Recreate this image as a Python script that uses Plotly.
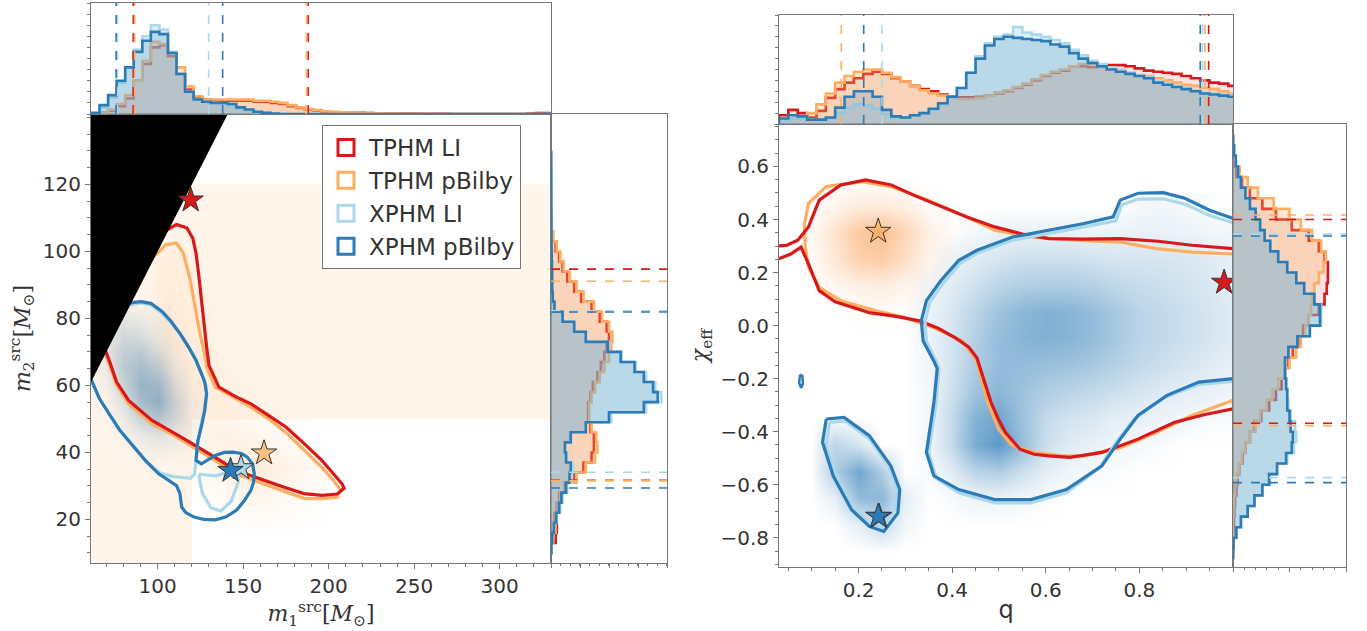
import plotly.graph_objects as go

# ---------------- series ----------------
NAMES = ['TPHM LI', 'TPHM pBilby', 'XPHM LI', 'XPHM pBilby']
COLS = ['#d7191c', '#fdae61', '#abd9e9', '#2c7bb6']
FILLS = ['rgba(215,25,28,0.12)', 'rgba(253,174,97,0.30)',
         'rgba(171,217,233,0.40)', 'rgba(44,123,182,0.20)']

M1_RANGE = [61, 330]
M2_RANGE = [7, 141]
Q_RANGE = [0.03, 1.0]
CHI_RANGE = [-0.91, 0.76]

# ---------- m1 marginal histogram (bin width 5) ----------
m1_edges = [61 + 5 * i for i in range(55)]
m1_red = [0, 0.01, 0.03, 0.07, 0.14, 0.30, 0.45, 0.60, 0.62, 0.52, 0.36, 0.22, 0.15, 0.13, 0.12, 0.12,
          0.12, 0.12, 0.12, 0.11, 0.11, 0.10, 0.09, 0.07, 0.055, 0.04, 0.03, 0.02, 0.015, 0.012, 0.01,
          0.01, 0.008, 0.006, 0.005, 0.004, 0.003, 0.003, 0.002, 0.002, 0.001, 0.001, 0, 0, 0, 0, 0,
          0, 0, 0, 0, 0.005, 0.008, 0.008]
m1_ora = [0, 0.01, 0.04, 0.09, 0.17, 0.30, 0.48, 0.65, 0.63, 0.55, 0.42, 0.25, 0.16, 0.13, 0.13, 0.13,
          0.13, 0.13, 0.13, 0.12, 0.12, 0.11, 0.10, 0.08, 0.06, 0.045, 0.035, 0.025, 0.02, 0.015, 0.012,
          0.01, 0.008, 0.006, 0.004, 0.003, 0.002, 0.002, 0.001, 0.001, 0, 0, 0, 0, 0, 0, 0,
          0, 0, 0, 0, 0, 0, 0]
m1_lbl = [0, 0.06, 0.15, 0.28, 0.42, 0.58, 0.70, 0.80, 0.76, 0.56, 0.36, 0.20, 0.13, 0.11, 0.10, 0.09,
          0.07, 0.05, 0.03, 0.015, 0.005, 0.002, 0, 0, 0, 0, 0, 0, 0, 0, 0,
          0, 0, 0, 0, 0, 0, 0, 0, 0, 0, 0, 0, 0, 0, 0, 0, 0, 0, 0, 0, 0, 0, 0]
m1_blu = [0.01, 0.08, 0.17, 0.30, 0.42, 0.56, 0.66, 0.74, 0.72, 0.55, 0.36, 0.20, 0.13, 0.11, 0.10, 0.10,
          0.09, 0.06, 0.04, 0.02, 0.01, 0.005, 0, 0, 0, 0, 0, 0, 0, 0, 0,
          0, 0, 0, 0, 0, 0, 0, 0, 0, 0, 0, 0, 0, 0, 0, 0, 0, 0, 0, 0, 0, 0, 0]
m1_q_lines = [[85.7, 188.0], [86.5, 187.0], [76.5, 129.8], [75.7, 138.0]]

# ---------- m2 marginal histogram (bin width 3) ----------
m2_edges = [10 + 3 * i for i in range(41)]
m2_red = [0.005, 0.04, 0.05, 0.03, 0.05, 0.07, 0.12, 0.20, 0.28, 0.35, 0.37, 0.37, 0.34, 0.32, 0.32,
          0.34, 0.36, 0.40, 0.43, 0.46, 0.48, 0.50, 0.48, 0.42, 0.35, 0.26, 0.20, 0.14, 0.10, 0.07,
          0.04, 0.01, 0.005, 0.002, 0, 0, 0, 0, 0, 0]
m2_ora = [0.005, 0.02, 0.04, 0.04, 0.06, 0.08, 0.13, 0.22, 0.30, 0.38, 0.40, 0.39, 0.35, 0.33, 0.33,
          0.35, 0.38, 0.42, 0.46, 0.50, 0.52, 0.53, 0.50, 0.44, 0.37, 0.28, 0.22, 0.16, 0.11, 0.08,
          0.05, 0.02, 0.008, 0.003, 0, 0, 0, 0, 0, 0]
m2_lbl = [0.003, 0.01, 0.025, 0.05, 0.08, 0.10, 0.14, 0.18, 0.19, 0.14, 0.12, 0.16, 0.30, 0.52, 0.82,
          0.95, 0.90, 0.82, 0.73, 0.61, 0.50, 0.30, 0.20, 0.10, 0.03, 0.015, 0.01, 0.01, 0.008, 0.006,
          0.005, 0.004, 0.003, 0.003, 0.002, 0.002, 0.001, 0.001, 0, 0]
m2_blu = [0.003, 0.01, 0.025, 0.045, 0.07, 0.09, 0.13, 0.16, 0.17, 0.13, 0.12, 0.17, 0.30, 0.50, 0.80,
          0.92, 0.88, 0.80, 0.72, 0.60, 0.49, 0.30, 0.20, 0.10, 0.03, 0.015, 0.01, 0.01, 0.008, 0.006,
          0.005, 0.004, 0.003, 0.003, 0.002, 0.002, 0.001, 0.001, 0, 0]
m2_q_lines = [[31.7, 94.7], [31.5, 91.1], [34.1, 82.3], [29.4, 81.9]]

# ---------- q marginal histogram (bin width 0.02) ----------
q_edges = [round(0.03 + 0.02 * i, 2) for i in range(50)]
q_red = [0.08, 0.13, 0.10, 0.06, 0.12, 0.24, 0.32, 0.38, 0.42, 0.46, 0.48, 0.46, 0.42, 0.39, 0.35, 0.32,
         0.30, 0.27, 0.25, 0.245, 0.245, 0.25, 0.26, 0.28, 0.30, 0.33, 0.36, 0.40, 0.44, 0.47, 0.49,
         0.53, 0.53, 0.52, 0.53, 0.54, 0.54, 0.53, 0.51, 0.49, 0.48, 0.47, 0.46, 0.44, 0.42, 0.40,
         0.38, 0.37, 0.35]
q_ora = [0.04, 0.05, 0.07, 0.10, 0.18, 0.28, 0.38, 0.44, 0.48, 0.50, 0.50, 0.47, 0.43, 0.39, 0.35, 0.31,
         0.28, 0.26, 0.24, 0.23, 0.23, 0.24, 0.26, 0.29, 0.31, 0.34, 0.37, 0.41, 0.45, 0.48, 0.50,
         0.53, 0.55, 0.55, 0.53, 0.51, 0.49, 0.47, 0.45, 0.44, 0.42, 0.40, 0.38, 0.36, 0.35, 0.33,
         0.32, 0.30, 0.28]
q_lbl = [0.03, 0.05, 0.05, 0.04, 0.03, 0.05, 0.10, 0.15, 0.18, 0.17, 0.14, 0.09, 0.06, 0.06, 0.08, 0.10,
         0.13, 0.18, 0.24, 0.33, 0.47, 0.62, 0.74, 0.80, 0.82, 0.89, 0.84, 0.82, 0.80, 0.77, 0.74,
         0.68, 0.63, 0.58, 0.55, 0.52, 0.50, 0.47, 0.45, 0.43, 0.40, 0.37, 0.35, 0.33, 0.31, 0.29,
         0.28, 0.27, 0.26]
q_blu = [0.05, 0.08, 0.07, 0.04, 0.04, 0.06, 0.15, 0.25, 0.30, 0.30, 0.25, 0.13, 0.07, 0.06, 0.08, 0.10,
         0.14, 0.19, 0.25, 0.33, 0.47, 0.60, 0.72, 0.78, 0.80, 0.79, 0.78, 0.77, 0.76, 0.73, 0.71,
         0.65, 0.60, 0.56, 0.53, 0.50, 0.48, 0.46, 0.44, 0.42, 0.38, 0.36, 0.34, 0.32, 0.30, 0.28,
         0.27, 0.26, 0.25]
q_q_lines = [[0.948], [0.163, 0.94], [0.25, 0.935], [0.211, 0.93]]

# ---------- chi_eff marginal histogram (bin width 0.04) ----------
chi_edges = [round(-0.88 + 0.04 * i, 2) for i in range(41)]
chi_red = [0, 0, 0.004, 0.008, 0.012, 0.018, 0.03, 0.04, 0.055, 0.085, 0.11, 0.15, 0.19, 0.25, 0.32,
           0.38, 0.43, 0.46, 0.49, 0.53, 0.58, 0.62, 0.67, 0.76, 0.81, 0.83, 0.84, 0.84, 0.81, 0.76,
           0.67, 0.52, 0.38, 0.26, 0.15, 0.08, 0.03, 0.005, 0, 0]
chi_ora = [0, 0, 0, 0, 0.005, 0.01, 0.02, 0.03, 0.05, 0.08, 0.11, 0.15, 0.20, 0.24, 0.30, 0.35, 0.40,
           0.46, 0.50, 0.56, 0.60, 0.64, 0.67, 0.69, 0.70, 0.72, 0.76, 0.80, 0.82, 0.78, 0.70, 0.60,
           0.50, 0.36, 0.22, 0.13, 0.06, 0.02, 0.005, 0]
chi_lbl = [0, 0.005, 0.03, 0.07, 0.13, 0.19, 0.26, 0.32, 0.39, 0.48, 0.54, 0.56, 0.55, 0.51, 0.49, 0.48,
           0.47, 0.46, 0.46, 0.49, 0.57, 0.68, 0.78, 0.78, 0.72, 0.63, 0.56, 0.48, 0.40, 0.33, 0.28,
           0.24, 0.20, 0.15, 0.11, 0.07, 0.045, 0.025, 0.01, 0]
chi_blu = [0, 0.005, 0.03, 0.07, 0.13, 0.19, 0.26, 0.32, 0.39, 0.47, 0.52, 0.53, 0.51, 0.50, 0.48, 0.48,
           0.47, 0.46, 0.46, 0.49, 0.57, 0.68, 0.77, 0.77, 0.72, 0.63, 0.56, 0.48, 0.40, 0.33, 0.28,
           0.24, 0.20, 0.15, 0.11, 0.07, 0.045, 0.025, 0.01, 0]
chi_q_lines = [[-0.368, 0.40], [-0.377, 0.417], [-0.573, 0.345], [-0.592, 0.338]]

# ---------- 2D densities (coarse grids) ----------
prior_m1_edges = [61, 120, 330]
prior_m2_edges = [7, 50, 120]
prior_z = [[1, 0], [1, 1]]

LB_m1 = [60, 70, 80, 90, 100, 110, 120, 130]
LB_m2 = [35, 40, 45, 50, 55, 60, 65, 70, 75, 80, 85]
LB_z = [[0, 0, 0, 0, 0, 0, 0, 0],
        [0, 0, 0, 0.02, 0.05, 0.03, 0, 0],
        [0, 0, 0.02, 0.12, 0.20, 0.12, 0.02, 0],
        [0, 0, 0.08, 0.35, 0.50, 0.30, 0.05, 0],
        [0, 0, 0.20, 0.60, 0.75, 0.35, 0.05, 0],
        [0, 0.05, 0.35, 0.70, 0.65, 0.25, 0.02, 0],
        [0, 0.10, 0.45, 0.60, 0.45, 0.12, 0, 0],
        [0, 0.15, 0.40, 0.45, 0.25, 0.05, 0, 0],
        [0, 0.15, 0.30, 0.25, 0.10, 0.02, 0, 0],
        [0, 0.10, 0.15, 0.10, 0.05, 0, 0, 0],
        [0, 0, 0, 0, 0, 0, 0, 0]]

LO_m1 = [95, 105, 115, 125, 135, 145, 155, 165, 175, 185, 195, 205, 215]
LO_m2 = [15, 25, 35, 45, 55, 65, 75, 85, 95, 105]
LO_z = [[0, 0, 0, 0, 0, 0, 0, 0, 0, 0, 0, 0, 0],
        [0, 0, 0, 0, 0.02, 0.05, 0.08, 0.08, 0.06, 0.04, 0.02, 0, 0],
        [0, 0, 0, 0.05, 0.12, 0.20, 0.25, 0.20, 0.15, 0.10, 0.05, 0, 0],
        [0, 0, 0.05, 0.10, 0.15, 0.15, 0.12, 0.08, 0.05, 0.02, 0, 0, 0],
        [0, 0.05, 0.10, 0.12, 0.10, 0.05, 0.02, 0, 0, 0, 0, 0, 0],
        [0, 0.10, 0.12, 0.10, 0.05, 0, 0, 0, 0, 0, 0, 0, 0],
        [0, 0.15, 0.15, 0.08, 0, 0, 0, 0, 0, 0, 0, 0, 0],
        [0, 0.15, 0.12, 0.05, 0, 0, 0, 0, 0, 0, 0, 0, 0],
        [0, 0.10, 0.10, 0, 0, 0, 0, 0, 0, 0, 0, 0, 0],
        [0, 0, 0, 0, 0, 0, 0, 0, 0, 0, 0, 0, 0]]

RB_q = [0.1, 0.15, 0.2, 0.25, 0.3, 0.35, 0.4, 0.45, 0.5, 0.55, 0.6, 0.65, 0.7, 0.75, 0.8, 0.85, 0.9,
        0.95, 1.0, 1.05]
RB_chi = [-0.85, -0.75, -0.65, -0.55, -0.45, -0.35, -0.25, -0.15, -0.05, 0.05, 0.15, 0.25, 0.35, 0.45]
RB_z = [[0, 0, 0, 0, 0, 0, 0, 0, 0, 0, 0, 0, 0, 0, 0, 0, 0, 0, 0, 0],
        [0, 0, 0.12, 0.30, 0.05, 0, 0, 0, 0, 0, 0, 0, 0, 0, 0, 0, 0, 0, 0, 0],
        [0, 0.12, 0.55, 0.60, 0.12, 0, 0.03, 0.08, 0.08, 0.05, 0.02, 0, 0, 0, 0, 0, 0, 0, 0, 0],
        [0, 0.40, 0.75, 0.40, 0, 0.03, 0.15, 0.35, 0.40, 0.25, 0.12, 0.06, 0.03, 0.02, 0, 0, 0, 0, 0, 0],
        [0, 0.35, 0.20, 0, 0, 0.05, 0.30, 0.70, 0.85, 0.55, 0.25, 0.15, 0.10, 0.06, 0.04, 0.02, 0, 0, 0, 0],
        [0, 0, 0, 0, 0, 0.05, 0.30, 0.65, 0.75, 0.50, 0.30, 0.22, 0.18, 0.12, 0.10, 0.08, 0.05, 0.03,
         0.02, 0.02],
        [0, 0, 0, 0, 0, 0.05, 0.25, 0.50, 0.60, 0.50, 0.40, 0.35, 0.30, 0.25, 0.20, 0.15, 0.12, 0.10,
         0.06, 0.06],
        [0, 0, 0, 0, 0, 0.06, 0.22, 0.42, 0.55, 0.55, 0.52, 0.50, 0.45, 0.38, 0.30, 0.25, 0.20, 0.15,
         0.10, 0.10],
        [0, 0, 0, 0, 0, 0.08, 0.22, 0.40, 0.55, 0.62, 0.65, 0.62, 0.55, 0.45, 0.35, 0.30, 0.25, 0.20,
         0.15, 0.15],
        [0, 0, 0, 0, 0, 0.08, 0.20, 0.35, 0.50, 0.60, 0.65, 0.62, 0.55, 0.45, 0.35, 0.30, 0.25, 0.20,
         0.15, 0.15],
        [0, 0, 0, 0, 0, 0.05, 0.15, 0.25, 0.35, 0.40, 0.42, 0.42, 0.38, 0.32, 0.28, 0.25, 0.22, 0.18,
         0.12, 0.12],
        [0, 0, 0, 0, 0, 0, 0.08, 0.15, 0.20, 0.25, 0.25, 0.25, 0.22, 0.20, 0.20, 0.20, 0.18, 0.15, 0.10,
         0.10],
        [0, 0, 0, 0, 0, 0, 0, 0.05, 0.08, 0.10, 0.10, 0.10, 0.08, 0.08, 0.10, 0.10, 0.08, 0.06, 0.05,
         0.05],
        [0, 0, 0, 0, 0, 0, 0, 0, 0, 0, 0, 0, 0, 0, 0.04, 0.05, 0.04, 0.02, 0, 0]]

RO_q = [0.05, 0.1, 0.15, 0.2, 0.25, 0.3, 0.35, 0.4, 0.45]
RO_chi = [-0.05, 0.05, 0.15, 0.25, 0.35, 0.45, 0.55]
RO_z = [[0, 0, 0, 0, 0, 0, 0, 0, 0],
        [0, 0, 0, 0.02, 0.03, 0.02, 0, 0, 0],
        [0, 0, 0.08, 0.15, 0.18, 0.10, 0.03, 0, 0],
        [0, 0.03, 0.25, 0.50, 0.55, 0.35, 0.10, 0.02, 0],
        [0, 0.05, 0.30, 0.60, 0.70, 0.45, 0.15, 0.03, 0],
        [0, 0, 0.10, 0.20, 0.22, 0.15, 0.05, 0, 0],
        [0, 0, 0, 0, 0, 0, 0, 0, 0]]

# ---------- 90% contours ----------
L_red_m1 = [95, 104, 111, 117, 120.5, 122.4, 124, 125.5, 127, 128.6, 130, 135.8, 145, 154.5, 165, 175,
            186, 196, 203, 208, 209, 205, 196, 185.5, 174, 162.7, 154, 146, 136, 125.5, 117, 108.9,
            96.5, 83, 76, 71.6, 66, 62, 60, 75, 95]
L_red_m2 = [100, 106, 108, 107, 104, 99.5, 93, 85.5, 78, 71.5, 66, 59.5, 56.8, 54.5, 51, 47.6, 42.5,
            37.6, 33.5, 30.5, 29.3, 27.6, 27.2, 27.7, 29.6, 31.6, 33.2, 34.6, 37.8, 41.1, 43.6, 46,
            49.6, 55.5, 61, 67.5, 75, 82, 90, 100, 100]
L_ora_m1 = [95, 104.8, 111, 115, 119, 122.4, 124.5, 126.5, 129, 133.7, 144, 154.5, 165, 176, 187,
            197, 203, 207, 205, 196, 185.5, 174, 162.7, 154, 146, 136, 125.5, 116, 108, 96.5, 83,
            76, 71.6, 66, 62, 60, 75, 95]
L_ora_m2 = [97, 102, 102.5, 99.5, 91.5, 81.5, 76, 71.5, 65, 59.5, 56.5, 53.5, 50, 45.5, 40, 35, 31.5,
            28.7, 26.6, 26.2, 26.3, 28.5, 30.6, 32.2, 33.6, 36.8, 40.1, 43, 45.5, 48.6, 54.5, 60,
            66.5, 74, 81, 88, 97, 97]
L_lbl_m1 = [70, 78, 86, 90.3, 96, 102.7, 108, 113, 118, 122.4, 126, 128.2, 128.6, 127, 125, 123.5,
            122.6, 121.5, 119.3, 109, 100.6, 93, 86, 78, 71.6, 66, 63, 60, 58, 62, 70]
L_lbl_m2 = [80, 83.5, 84.2, 84.6, 84, 81.5, 78.5, 75.5, 71.5, 67.5, 63, 60, 57.5, 52, 47.6, 43, 38,
            33.5, 32.3, 32.8, 34, 37.5, 41.6, 46.5, 51.5, 56, 59.5, 63, 68, 75, 80]
L_lbl2_m1 = [124, 134, 142, 147.5, 147, 143, 137, 131, 126, 124]
L_lbl2_m2 = [33.5, 33, 34.2, 36.2, 31, 25.5, 22.5, 23.5, 28, 33.5]
L_blu_m1 = [70, 78, 86, 90.3, 96, 102.7, 108, 113, 118, 122.4, 126, 127.5, 128.6, 127.5, 125.5, 123.5,
            123, 122.4, 125.5, 129.5, 133.7, 139, 144, 149, 152.4, 155.5, 156.5, 156, 154.5, 150.5,
            146, 140, 133.7, 127, 121.3, 116.5, 114, 113, 111, 106, 100.6, 93, 86, 78, 71.6, 66, 63,
            60, 58, 62, 70]
L_blu_m2 = [80.5, 84, 84.8, 85, 84.5, 82, 79, 75.5, 71.5, 67.5, 63, 61, 57.5, 52.5, 47.6, 43.5, 41,
            37.6, 36.6, 37.8, 39.1, 40, 40.1, 39.7, 38.6, 36.5, 33.6, 31, 28.7, 25.5, 22.7, 20.8, 19.9,
            20, 20.7, 22, 23.7, 27.7, 30.1, 31.8, 33.6, 37.5, 41.6, 46.5, 51.5, 56, 59.5, 63, 68, 75,
            80.5]

R_red_q = [0.0, 0.047, 0.07, 0.093, 0.116, 0.162, 0.215, 0.27, 0.32, 0.376, 0.43, 0.491, 0.55, 0.606,
           0.68, 0.759, 0.84, 0.912, 1.0, 1.05]
R_red_chi = [0.297, 0.303, 0.322, 0.372, 0.473, 0.53, 0.549, 0.53, 0.49, 0.448, 0.41, 0.372, 0.345,
             0.328, 0.326, 0.328, 0.318, 0.303, 0.29, 0.29]
R_red2_q = [0.0, 0.03, 0.055, 0.077, 0.093, 0.116, 0.15, 0.223, 0.28, 0.33, 0.37, 0.407, 0.435, 0.453,
            0.46, 0.472, 0.483, 0.498, 0.514, 0.545, 0.575, 0.606, 0.652, 0.72, 0.797, 0.874, 0.94,
            1.0, 1.05]
R_red2_chi = [0.248, 0.252, 0.27, 0.296, 0.233, 0.132, 0.09, 0.049, 0.035, 0.018, -0.01, -0.046,
              -0.08, -0.122, -0.162, -0.23, -0.289, -0.35, -0.403, -0.466, -0.485, -0.491, -0.497,
              -0.478, -0.428, -0.365, -0.335, -0.314, -0.31]
R_ora_q = [1.05, 1.0, 0.912, 0.836, 0.759, 0.682, 0.568, 0.491, 0.414, 0.338, 0.269, 0.208, 0.131,
           0.093, 0.084, 0.086, 0.093, 0.116, 0.162, 0.238, 0.3, 0.361, 0.422, 0.453, 0.462, 0.476,
           0.499, 0.529, 0.575, 0.636, 0.682, 0.759, 0.836, 0.912, 1.0, 1.05]
R_ora_chi = [0.27, 0.27, 0.277, 0.29, 0.315, 0.32, 0.334, 0.36, 0.423, 0.48, 0.524, 0.543, 0.524,
             0.461, 0.38, 0.3, 0.22, 0.144, 0.094, 0.056, 0.03, -0.008, -0.058, -0.134, -0.2, -0.289,
             -0.39, -0.453, -0.478, -0.491, -0.491, -0.46, -0.403, -0.339, -0.282, -0.27]
R_blu_q = [1.05, 1.0, 0.95, 0.897, 0.851, 0.797, 0.759, 0.744, 0.682, 0.606, 0.529, 0.453, 0.414,
           0.376, 0.345, 0.334, 0.338, 0.361, 0.368, 0.361, 0.345, 0.361, 0.414, 0.491, 0.568, 0.644,
           0.72, 0.759, 0.797, 0.859, 0.927, 1.0, 1.05]
R_blu_chi = [0.40, 0.404, 0.435, 0.48, 0.501, 0.499, 0.473, 0.41, 0.385, 0.36, 0.334, 0.284, 0.246,
             0.17, 0.094, 0.018, -0.058, -0.134, -0.162, -0.289, -0.478, -0.567, -0.618, -0.656,
             -0.656, -0.618, -0.529, -0.428, -0.339, -0.263, -0.213, -0.2, -0.2]
R_lbl_q = [1.05, 1.0, 0.95, 0.897, 0.851, 0.797, 0.762, 0.75, 0.682, 0.606, 0.529, 0.455, 0.418,
           0.382, 0.352, 0.342, 0.345, 0.366, 0.372, 0.366, 0.35, 0.366, 0.414, 0.491, 0.568, 0.644,
           0.715, 0.75, 0.79, 0.855, 0.927, 1.0, 1.05]
R_lbl_chi = [0.385, 0.388, 0.415, 0.458, 0.478, 0.477, 0.455, 0.395, 0.372, 0.348, 0.322, 0.274,
             0.236, 0.162, 0.088, 0.014, -0.06, -0.134, -0.162, -0.289, -0.478, -0.575, -0.63,
             -0.668, -0.668, -0.63, -0.535, -0.44, -0.35, -0.27, -0.222, -0.21, -0.21]
R_ell_q = [0.131, 0.169, 0.223, 0.269, 0.288, 0.284, 0.254, 0.223, 0.185, 0.146, 0.123, 0.131]
R_ell_chi = [-0.352, -0.346, -0.415, -0.529, -0.618, -0.706, -0.776, -0.757, -0.694, -0.567, -0.44, -0.352]
R_ell2_q = [0.138, 0.172, 0.222, 0.265, 0.281, 0.276, 0.25, 0.222, 0.188, 0.152, 0.131, 0.138]
R_ell2_chi = [-0.365, -0.36, -0.425, -0.53, -0.615, -0.696, -0.758, -0.742, -0.685, -0.565, -0.45, -0.365]
R_dot_q = [0.075, 0.08, 0.081, 0.077, 0.073, 0.075]
R_dot_chi = [-0.185, -0.19, -0.22, -0.235, -0.215, -0.185]

# ---------- maximum-likelihood points ----------
L_star_m1 = [119.3, 162.2, 148.7, 142.6]
L_star_m2 = [115.3, 39.8, 35.4, 34.6]
R_star_q = [0.981, 0.242, 0.244, 0.242]
R_star_chi = [0.163, 0.355, -0.72, -0.719]
STAR_FILLS = ['#d7191c', 'rgba(253,174,97,0.75)', '#abd9e9', '#2c7bb6']

# ---------------- figure ----------------
W, H = 1367, 631


def xd(a, b):
    return [a / W, b / W]


def yd(top, bottom):
    return [1 - bottom / H, 1 - top / H]


fig = go.Figure()


def heat(x, y, z, rgb, amax, ax, smooth='best'):
    fig.add_trace(go.Heatmap(
        x=x, y=y, z=z, xaxis=ax[0], yaxis=ax[1], zmin=0, zmax=1, zsmooth=smooth,
        showscale=False, hoverinfo='skip',
        colorscale=[[0, 'rgba(%s,0)' % rgb], [0.04, 'rgba(%s,%.3f)' % (rgb, amax * 0.06)],
                    [1, 'rgba(%s,%.3f)' % (rgb, amax)]]))


# left main: prior region + densities
heat(prior_m1_edges, prior_m2_edges, prior_z, '253,174,97', 0.13, ('x', 'y'), smooth=False)
heat(LO_m1, LO_m2, LO_z, '253,174,97', 0.9, ('x', 'y'))
heat(LB_m1, LB_m2, LB_z, '60,120,165', 0.75, ('x', 'y'))
# right main densities
heat(RO_q, RO_chi, RO_z, '250,150,70', 0.85, ('x4', 'y4'))
heat(RB_q, RB_chi, RB_z, '44,123,182', 0.9, ('x4', 'y4'))


def line(x, y, color, ax, width=3.2):
    fig.add_trace(go.Scatter(x=x, y=y, mode='lines', xaxis=ax[0], yaxis=ax[1], showlegend=False,
                             hoverinfo='skip', line=dict(color=color, width=width)))


# left contours
line(L_ora_m1, L_ora_m2, COLS[1], ('x', 'y'))
line(L_red_m1, L_red_m2, COLS[0], ('x', 'y'))
line(L_lbl_m1, L_lbl_m2, COLS[2], ('x', 'y'))
line(L_lbl2_m1, L_lbl2_m2, COLS[2], ('x', 'y'))
line(L_blu_m1, L_blu_m2, COLS[3], ('x', 'y'))
# black excluded region m2 > m1
fig.add_trace(go.Scatter(
    x=[M1_RANGE[0], M1_RANGE[0], M2_RANGE[1], M1_RANGE[0]],
    y=[M1_RANGE[0], M2_RANGE[1], M2_RANGE[1], M1_RANGE[0]],
    mode='lines', fill='toself', fillcolor='black', line=dict(color='black', width=0),
    showlegend=False, hoverinfo='skip', xaxis='x', yaxis='y'))

# right contours
line(R_ora_q, R_ora_chi, COLS[1], ('x4', 'y4'))
line(R_red_q, R_red_chi, COLS[0], ('x4', 'y4'))
line(R_red2_q, R_red2_chi, COLS[0], ('x4', 'y4'))
line(R_lbl_q, R_lbl_chi, COLS[2], ('x4', 'y4'))
line(R_ell2_q, R_ell2_chi, COLS[2], ('x4', 'y4'))
line(R_blu_q, R_blu_chi, COLS[3], ('x4', 'y4'))
line(R_ell_q, R_ell_chi, COLS[3], ('x4', 'y4'))
line(R_dot_q, R_dot_chi, COLS[3], ('x4', 'y4'), width=2.5)

# stars
for k in range(4):
    fig.add_trace(go.Scatter(x=[L_star_m1[k]], y=[L_star_m2[k]], mode='markers', xaxis='x', yaxis='y',
                             showlegend=False, hoverinfo='skip',
                             marker=dict(symbol='star', size=19, color=STAR_FILLS[k],
                                         line=dict(color='#333', width=1))))
for k in [2, 3, 1, 0]:
    fig.add_trace(go.Scatter(x=[R_star_q[k]], y=[R_star_chi[k]], mode='markers', xaxis='x4', yaxis='y4',
                             showlegend=False, hoverinfo='skip',
                             marker=dict(symbol='star', size=19, color=STAR_FILLS[k],
                                         line=dict(color='#333', width=1))))


# marginal histograms
def hist_top(edges, vals, k, ax):
    xs = [edges[0]] + edges + [edges[-1]]
    ys = [0] + vals + [vals[-1], 0]
    fig.add_trace(go.Scatter(x=xs, y=ys, mode='lines', line_shape='hv', fill='tozeroy',
                             fillcolor=FILLS[k], line=dict(color=COLS[k], width=2.6),
                             xaxis=ax[0], yaxis=ax[1], showlegend=False, hoverinfo='skip'))


def hist_side(edges, vals, k, ax):
    ys = [edges[0]] + edges + [edges[-1]]
    xs = [0] + vals + [vals[-1], 0]
    fig.add_trace(go.Scatter(x=xs, y=ys, mode='lines', line_shape='vh', fill='tozerox',
                             fillcolor=FILLS[k], line=dict(color=COLS[k], width=2.6),
                             xaxis=ax[0], yaxis=ax[1], showlegend=False, hoverinfo='skip'))


for k, v in enumerate([m1_red, m1_ora, m1_lbl, m1_blu]):
    hist_top(m1_edges, v, k, ('x2', 'y2'))
for k, v in enumerate([m2_red, m2_ora, m2_lbl, m2_blu]):
    hist_side(m2_edges, v, k, ('x3', 'y3'))
for k, v in enumerate([q_red, q_ora, q_lbl, q_blu]):
    hist_top(q_edges, v, k, ('x5', 'y5'))
for k, v in enumerate([chi_red, chi_ora, chi_lbl, chi_blu]):
    hist_side(chi_edges, v, k, ('x6', 'y6'))

# quantile lines
shapes = []
for k in range(4):
    for v in m1_q_lines[k]:
        shapes.append(dict(type='line', xref='x2', yref='y2 domain', x0=v, x1=v, y0=0, y1=1,
                           line=dict(color=COLS[k], width=1.6, dash='dash')))
    for v in q_q_lines[k]:
        shapes.append(dict(type='line', xref='x5', yref='y5 domain', x0=v, x1=v, y0=0, y1=1,
                           line=dict(color=COLS[k], width=1.6, dash='dash')))
    for v in m2_q_lines[k]:
        shapes.append(dict(type='line', xref='x3 domain', yref='y3', x0=0, x1=1, y0=v, y1=v,
                           line=dict(color=COLS[k], width=1.6, dash='dash')))
    for v in chi_q_lines[k]:
        shapes.append(dict(type='line', xref='x6 domain', yref='y6', x0=0, x1=1, y0=v, y1=v,
                           line=dict(color=COLS[k], width=1.6, dash='dash')))

# legend entries
for k in range(4):
    fig.add_trace(go.Scatter(x=[None], y=[None], mode='markers', name=NAMES[k], xaxis='x', yaxis='y',
                             marker=dict(symbol='square-open', size=20, color=COLS[k],
                                         line=dict(color=COLS[k], width=3))))

TICKF = dict(family='DejaVu Sans', size=20, color='#333')
BASE = dict(showline=True, mirror=True, linecolor='#777', linewidth=1, showgrid=False, zeroline=False,
            ticks='outside', ticklen=5, tickcolor='#777', tickfont=TICKF)
SERIF = dict(family='DejaVu Serif', size=22, color='#333')


def ax(**kw):
    d = dict(BASE)
    d.update(kw)
    return d


fig.update_layout(
    width=W, height=H, margin=dict(l=0, r=0, t=0, b=0),
    paper_bgcolor='white', plot_bgcolor='white', shapes=shapes,
    showlegend=True,
    legend=dict(x=322 / W, y=1 - 125 / H, xanchor='left', yanchor='top', bgcolor='white',
                bordercolor='#777', borderwidth=1,
                font=dict(family='DejaVu Sans', size=23, color='#333'),
                itemwidth=36, tracegroupgap=0),
    # left main
    xaxis=ax(domain=xd(91, 551), range=M1_RANGE, anchor='y', tickvals=[100, 150, 200, 250, 300],
             minor=dict(ticks='outside', dtick=10, tick0=0, ticklen=3, tickcolor='#777'),
             title=dict(text='<i>m</i><sub>1</sub><sup>src</sup>[<i>M</i><sub>⊙</sub>]', font=SERIF,
                        standoff=0)),
    yaxis=ax(domain=yd(114, 563), range=M2_RANGE, anchor='x', tickvals=[20, 40, 60, 80, 100, 120],
             minor=dict(ticks='outside', dtick=5, tick0=0, ticklen=3, tickcolor='#777'),
             title=dict(text='<i>m</i><sub>2</sub><sup>src</sup>[<i>M</i><sub>⊙</sub>]', font=SERIF,
                        standoff=6)),
    # left top
    xaxis2=ax(domain=xd(91, 551), range=M1_RANGE, anchor='y2', ticks='', showticklabels=False),
    yaxis2=ax(domain=yd(3, 114), range=[0, 1.0], anchor='x2', showticklabels=False, dtick=0.1,
              ticklen=3),
    # left right
    xaxis3=ax(domain=xd(551, 667), range=[0, 1.0], anchor='y3', showticklabels=False, dtick=0.25,
              ticklen=4, minor=dict(ticks='outside', dtick=0.0833, ticklen=2, tickcolor='#777')),
    yaxis3=ax(domain=yd(114, 563), range=M2_RANGE, anchor='x3', ticks='', showticklabels=False),
    # right main
    xaxis4=ax(domain=xd(779, 1233), range=Q_RANGE, anchor='y4', tickvals=[0.2, 0.4, 0.6, 0.8],
              ticktext=['0.2', '0.4', '0.6', '0.8'],
              minor=dict(ticks='outside', dtick=0.05, tick0=0, ticklen=3, tickcolor='#777'),
              title=dict(text='q', font=dict(family='DejaVu Sans', size=24, color='#333'), standoff=0)),
    yaxis4=ax(domain=yd(124, 567), range=CHI_RANGE, anchor='x4',
              tickvals=[-0.8, -0.6, -0.4, -0.2, 0.0, 0.2, 0.4, 0.6],
              ticktext=['−0.8', '−0.6', '−0.4', '−0.2', '0.0', '0.2', '0.4', '0.6'],
              minor=dict(ticks='outside', dtick=0.05, tick0=0, ticklen=3, tickcolor='#777'),
              title=dict(text='<i>χ</i><sub>eff</sub>', font=SERIF, standoff=6)),
    # right top
    xaxis5=ax(domain=xd(779, 1233), range=Q_RANGE, anchor='y5', ticks='', showticklabels=False),
    yaxis5=ax(domain=yd(15, 124), range=[0, 1.0], anchor='x5', showticklabels=False, dtick=0.1,
              ticklen=3),
    # right right
    xaxis6=ax(domain=xd(1233, 1346), range=[0, 1.0], anchor='y6', showticklabels=False, dtick=0.5,
              ticklen=4, minor=dict(ticks='outside', dtick=0.1, ticklen=2, tickcolor='#777')),
    yaxis6=ax(domain=yd(124, 567), range=CHI_RANGE, anchor='x6', ticks='', showticklabels=False),
)

fig.write_html('out.html')
